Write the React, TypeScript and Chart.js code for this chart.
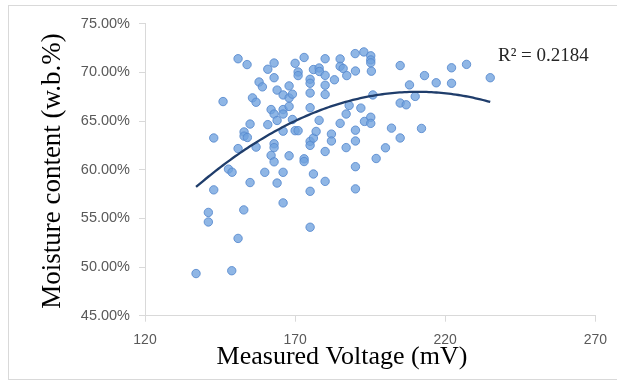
import React, { useEffect, useRef } from "react";
import { Chart, registerables } from "chart.js";

Chart.register(...registerables);

// Measured voltage (mV) of each sample
const voltage: number[] = [
  137.0, 148.9, 141.1, 141.1, 142.9, 142.9, 146.0, 151.0, 154.0, 147.8,
  149.0, 151.0, 152.9, 151.0, 153.0, 153.0, 154.1, 155.0, 155.0, 155.8,
  157.0, 157.0, 158.0, 159.1, 160.9, 163.0, 160.9, 162.0, 163.0, 164.0,
  164.0, 163.0, 163.0, 163.0, 162.0, 163.0, 159.9, 164.0, 166.0, 166.0,
  166.0, 166.0, 166.0, 166.0, 168.0, 168.0, 168.0, 168.0, 169.1, 169.1,
  170.0, 170.0, 171.0, 171.0, 171.0, 173.0, 173.0, 173.0, 175.0, 175.0,
  175.0, 175.0, 175.0, 175.0, 176.1, 177.0, 175.0, 175.0, 176.1, 176.1,
  178.0, 178.1, 178.0, 180.0, 180.0, 180.0, 180.0, 180.0, 180.0, 182.1,
  182.1, 183.1, 185.0, 185.0, 186.0, 185.0, 187.2, 187.0, 187.0, 188.0,
  190.0, 190.1, 190.1, 190.1, 190.1, 190.1, 191.9, 192.9, 193.1, 195.2,
  195.2, 195.2, 195.4, 195.9, 195.2, 195.2, 197.0, 200.1, 202.1, 205.0,
  205.0, 205.0, 207.0, 208.1, 210.0, 212.1, 213.1, 217.0, 222.1, 222.1,
  227.1, 235.0,
];

// Moisture content (w.b. %) of each sample
const moisture: number[] = [
  49.33, 49.62, 55.61, 54.63, 57.93, 63.26, 67.0, 71.4, 70.8, 60.06,
  59.74, 52.94, 55.87, 62.17, 63.88, 63.45, 63.31, 64.69, 58.68, 67.38,
  66.93, 62.32, 69.01, 68.51, 70.32, 70.96, 64.63, 66.18, 65.72, 65.06,
  68.18, 69.45, 62.66, 62.27, 61.47, 60.81, 59.73, 58.63, 67.68, 66.18,
  65.72, 63.96, 59.73, 56.59, 68.61, 66.5, 61.43, 67.37, 67.76, 65.16,
  70.93, 64.01, 64.01, 70.04, 69.67, 71.53, 61.12, 60.84, 69.29, 68.88,
  67.88, 66.37, 62.91, 62.5, 63.25, 63.93, 57.78, 54.09, 70.29, 59.56,
  70.45, 70.09, 65.07, 71.4, 69.69, 68.68, 67.73, 61.87, 58.8, 63.66,
  62.95, 69.24, 71.38, 70.62, 70.4, 64.76, 69.67, 65.72, 62.27, 66.6,
  71.93, 70.14, 64.06, 62.95, 60.31, 58.03, 66.33, 72.1, 64.96, 71.7,
  71.28, 70.98, 70.12, 67.68, 65.39, 64.76, 61.15, 62.25, 64.27, 63.26,
  70.7, 66.85, 66.67, 68.71, 67.53, 64.24, 69.67, 68.93, 70.47, 68.88,
  70.82, 69.45,
];

const xTickValues: number[] = [120, 170, 220, 270];
const yTickValues: number[] = [45, 50, 55, 60, 65, 70, 75];
const xTitle = "Measured Voltage (mV)";
const yTitle = "Moisture content (w.b.%)";
const r2Label = "R² = 0.2184";

// least-squares quadratic trendline (as the spreadsheet trendline does)
function fitQuadratic(xs: number[], ys: number[]): [number, number, number] {
  const n = xs.length;
  const mx = xs.reduce((s, v) => s + v, 0) / n;
  let s0 = n, s1 = 0, s2 = 0, s3 = 0, s4 = 0, t0 = 0, t1 = 0, t2 = 0;
  for (let i = 0; i < n; i++) {
    const x = xs[i] - mx;
    const y = ys[i];
    s1 += x; s2 += x * x; s3 += x * x * x; s4 += x * x * x * x;
    t0 += y; t1 += x * y; t2 += x * x * y;
  }
  const M = [
    [s0, s1, s2, t0],
    [s1, s2, s3, t1],
    [s2, s3, s4, t2],
  ];
  for (let c = 0; c < 3; c++) {
    for (let r = c + 1; r < 3; r++) {
      const f = M[r][c] / M[c][c];
      for (let k = c; k < 4; k++) M[r][k] -= f * M[c][k];
    }
  }
  const sol = [0, 0, 0];
  for (let r = 2; r >= 0; r--) {
    let s = M[r][3];
    for (let k = r + 1; k < 3; k++) s -= M[r][k] * sol[k];
    sol[r] = s / M[r][r];
  }
  const [a0, a1, a2] = sol;
  return [a0 - a1 * mx + a2 * mx * mx, a1 - 2 * a2 * mx, a2];
}

const textPlugin = {
  id: "textPlugin",
  afterDraw(chart: any) {
    const ctx = chart.ctx;
    ctx.save();
    ctx.fillStyle = "#000000";
    ctx.textAlign = "center";
    ctx.textBaseline = "middle";
    ctx.font = "26px 'Liberation Serif'";
    ctx.fillText(xTitle, 333, 351);
    ctx.save();
    ctx.translate(44, 165);
    ctx.rotate(-Math.PI / 2);
    ctx.font = "27px 'Liberation Serif'";
    ctx.fillText(yTitle, 0, 0);
    ctx.restore();
    ctx.font = "19px 'Liberation Serif'";
    ctx.fillStyle = "#262626";
    ctx.textAlign = "left";
    ctx.fillText(r2Label, 489, 50);
    ctx.restore();
  },
};

export default function App() {
  const ref = useRef<HTMLCanvasElement>(null);

  useEffect(() => {
    const points = voltage.map((v, i) => ({ x: v, y: moisture[i] }));
    const [a, b, c] = fitQuadratic(voltage, moisture);
    const xmin = Math.min(...voltage);
    const xmax = Math.max(...voltage);
    const trend: { x: number; y: number }[] = [];
    for (let i = 0; i <= 120; i++) {
      const x = xmin + ((xmax - xmin) * i) / 120;
      trend.push({ x, y: a + b * x + c * x * x });
    }

    const tickFont = { family: "'Liberation Sans'", size: 14 };
    const chart = new Chart(ref.current as HTMLCanvasElement, {
      type: "scatter",
      data: {
        datasets: [
          {
            data: trend,
            showLine: true,
            pointRadius: 0,
            borderColor: "#1f3d6b",
            borderWidth: 2.3,
            fill: false,
            order: 0,
          } as any,
          {
            data: points,
            backgroundColor: "rgba(112,162,222,0.78)",
            borderColor: "rgba(86,136,206,0.85)",
            borderWidth: 1,
            pointRadius: 4.2,
            order: 1,
          },
        ],
      },
      options: {
        animation: false,
        responsive: false,
        devicePixelRatio: 1,
        layout: { padding: { top: 10.5, right: 17, left: 0, bottom: 0 } },
        plugins: { legend: { display: false }, tooltip: { enabled: false } },
        scales: {
          x: {
            type: "linear",
            min: 120,
            max: 270,
            afterBuildTicks: (s: any) => {
              s.ticks = xTickValues.map((v) => ({ value: v }));
            },
            afterFit: (s: any) => {
              s.height = 63.3;
            },
            grid: { drawOnChartArea: false, drawTicks: true, tickLength: 6, color: "#d9d9d9" },
            border: { color: "#d9d9d9", width: 1 },
            ticks: { padding: 10, color: "#595959", font: tickFont, maxRotation: 0 },
          },
          y: {
            type: "linear",
            min: 45,
            max: 75,
            afterBuildTicks: (s: any) => {
              s.ticks = yTickValues.map((v) => ({ value: v }));
            },
            afterFit: (s: any) => {
              s.width = 136;
            },
            grid: { drawOnChartArea: false, drawTicks: true, tickLength: 6, color: "#d9d9d9" },
            border: { color: "#d9d9d9", width: 1 },
            ticks: {
              padding: 9,
              color: "#595959",
              font: { family: "'Liberation Sans'", size: 14.5 },
              callback: (v: any) => Number(v).toFixed(2) + "%",
            },
          },
        },
      },
      plugins: [textPlugin],
    });
    return () => chart.destroy();
  }, []);

  return (
    <div
      style={{
        position: "absolute",
        left: 8,
        top: 5,
        width: 609,
        height: 375,
        boxSizing: "border-box",
        borderTop: "1px solid #d9d9d9",
        borderLeft: "1px solid #d9d9d9",
        borderBottom: "1px solid #d9d9d9",
        overflow: "hidden",
        background: "#ffffff",
      }}
    >
      <canvas ref={ref} width={608} height={373} style={{ display: "block", width: 608, height: 373 }} />
    </div>
  );
}
